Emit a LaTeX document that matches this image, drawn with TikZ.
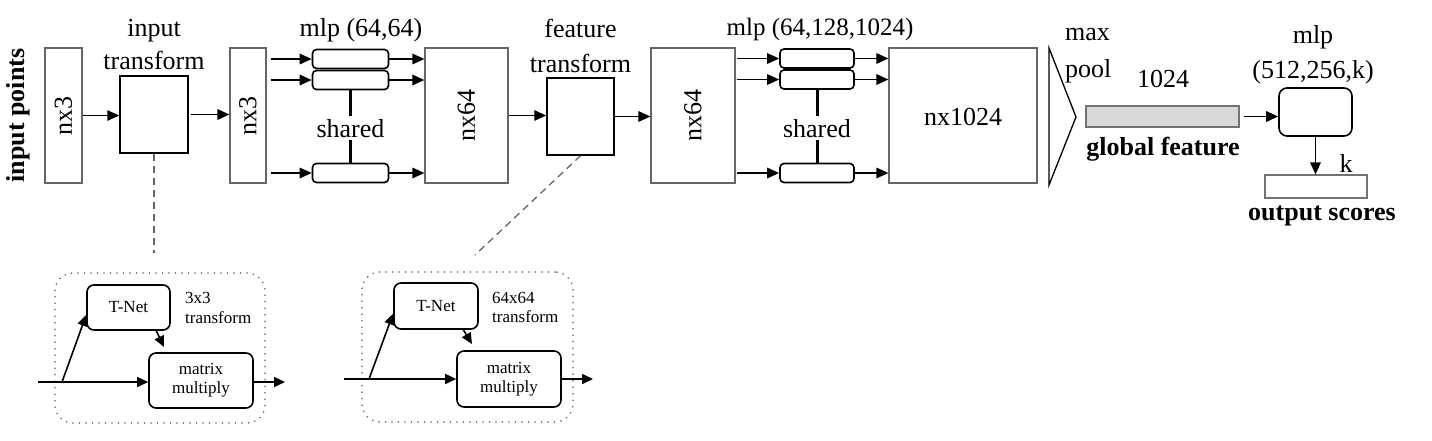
\documentclass[tikz,border=0pt]{standalone}
\usepackage{fontspec}
\setmainfont{Liberation Serif}
\usetikzlibrary{arrows.meta}
\begin{document}
\begin{tikzpicture}[x=1pt,y=-1pt,
  big/.style={font=\fontsize{26}{30}\selectfont, inner sep=0pt},
  bigb/.style={font=\fontsize{26}{30}\selectfont\bfseries, inner sep=0pt},
  small/.style={font=\fontsize{17}{19}\selectfont, inner sep=0pt},
  dimbox/.style={draw=black!60, line width=1.2pt, inner sep=0pt},
  tbox/.style={draw=black, line width=1.5pt, inner sep=0pt},
  mbox/.style={draw=black, line width=1.6pt, rounded corners=4pt, inner sep=0pt, minimum height=19pt},
  rbox/.style={draw=black, line width=1.6pt, rounded corners=7pt, inner sep=0pt, align=center, font=\fontsize{17}{19}\selectfont},
  arr/.style={-{Triangle[length=12pt,width=10.5pt]}, line width=1.5pt},
  sarr/.style={-{Triangle[length=11pt,width=10pt]}, line width=1.6pt},
  sharedln/.style={line width=3pt},
  dashln/.style={draw=black!60, line width=1.3pt, dash pattern=on 7pt off 5pt},
  dotbox/.style={draw=black!60, line width=1.8pt, dash pattern=on 0pt off 6.5pt, line cap=round, rounded corners=18pt, inner sep=0pt},
]
\useasboundingbox (0,0) rectangle (1432,440);

% input points
\node[bigb, rotate=90] (ip) at (18,115.5) {input points};

% first nx3
\node[dimbox, minimum width=37pt, minimum height=135pt] (a1) at (63.5,115.5) {};
\node[big, rotate=90] (a1t) at (a1) {nx3};

% input transform
\node[tbox, minimum width=68pt, minimum height=77pt] (it) at (154,114.5) {};
\node[big, anchor=base] (t1) at (154,36) {input};
\node[big, anchor=base] (t2) at (154,69) {transform};

% second nx3
\node[dimbox, minimum width=36pt, minimum height=135pt] (a2) at (248,115.5) {};
\node[big, rotate=90] (a2t) at (a2) {nx3};

% mlp (64,64)
\node[big, anchor=base] (t3) at (361,36) {mlp (64,64)};
\node[mbox, minimum width=76pt] (m1) at (350.5,59) {};
\node[mbox, minimum width=76pt] (m2) at (350.5,80) {};
\node[mbox, minimum width=76pt] (m3) at (350.5,173) {};
\node[big, text height=18pt, text depth=0pt, inner ysep=3pt] (sh1) at (350.5,128) {shared};

% nx64
\node[dimbox, minimum width=83pt, minimum height=135pt] (a3) at (466.5,115.5) {};
\node[big, rotate=90] (a3t) at (a3) {nx64};

% feature transform
\node[tbox, minimum width=67pt, minimum height=77pt] (ft) at (580.5,116.5) {};
\node[big, anchor=base] (t4) at (580.5,37) {feature};
\node[big, anchor=base] (t5) at (580.5,72) {transform};

% nx64 second
\node[dimbox, minimum width=84pt, minimum height=135pt] (a4) at (693,115.5) {};
\node[big, rotate=90] (a4t) at (a4) {nx64};

% mlp (64,128,1024)
\node[big, anchor=base, font=\fontsize{25}{30}\selectfont] (t6) at (820,35) {mlp (64,128,1024)};
\node[mbox, minimum width=74pt] (m4) at (817,58.5) {};
\node[mbox, minimum width=74pt] (m5) at (817,79.5) {};
\node[mbox, minimum width=74pt] (m6) at (817,173) {};
\node[big, text height=18pt, text depth=0pt, inner ysep=3pt] (sh2) at (817,128) {shared};

% nx1024
\node[dimbox, minimum width=148pt, minimum height=135pt] (a5) at (963,115.5) {};
\node[big] (a5t) at (963,117) {nx1024};

% max pool
\draw[line width=1.3pt, line join=miter] (1049,48) -- (1076,117) -- (1049,185) -- cycle;
\node[big, anchor=base west] (t7) at (1065,40) {max};
\node[big, anchor=base west] (t8) at (1065,77) {pool};

% global feature
\node[big, anchor=base] (t9) at (1163,87) {1024};
\node[draw=black!55, fill=black!15, line width=1.2pt, inner sep=0pt, minimum width=153pt, minimum height=21pt] (gf) at (1162.5,116.5) {};
\node[bigb, anchor=base] (t10) at (1163,155) {global feature};

% final mlp
\node[big, anchor=base] (t11) at (1313,43) {mlp};
\node[big, anchor=base] (t12) at (1313,78) {(512,256,k)};
\node[draw=black, line width=1.6pt, rounded corners=8pt, inner sep=0pt, minimum width=73pt, minimum height=48pt] (mlpb) at (1315.5,112) {};
\node[big, anchor=base] (t13) at (1346,172) {k};
\node[draw=black!55, line width=1.2pt, inner sep=0pt, minimum width=102pt, minimum height=23pt] (outb) at (1316,186.5) {};
\node[bigb, anchor=base] (t14) at (1322,220) {output scores};

% arrows top row
\draw[arr] (a1.east) -- (it.west |- a1.east);
\draw[arr, shorten <=2pt] (it.east) -- (a2.west |- it.east);
\foreach \m in {m1,m2,m3} {
  \draw[arr, shorten <=4pt] (a2.east |- \m.west) -- (\m.west);
  \draw[arr] (\m.east) -- (a3.west |- \m.east);
}
\draw[sharedln] (m2.south) -- (sh1.north);
\draw[sharedln] (sh1.south) -- (m3.north);
\draw[arr] (a3.east) -- (ft.west |- a3.east);
\draw[arr] (ft.east) -- (a4.west |- ft.east);
\foreach \m in {m4,m5,m6} {
  \draw[arr, shorten <=1pt] (a4.east |- \m.west) -- (\m.west);
  \draw[arr] (\m.east) -- (a5.west |- \m.east);
}
\draw[sharedln] (m5.south) -- (sh2.north);
\draw[sharedln] (sh2.south) -- (m6.north);
\draw[arr, shorten <=4pt] (gf.east) -- (mlpb.west |- gf.east);
\draw[arr] (mlpb.south) -- (outb.north -| mlpb.south);

% dashed links
\coordinate (c1) at (154,253);
\coordinate (c2) at (475,255);
\draw[dashln] (it.south) -- (c1);
\draw[dashln] (ft.south) -- (c2);

% bottom panel 1
\node[dotbox, minimum width=210pt, minimum height=150pt] (d1) at (160,348) {};
\node[rbox, minimum width=83pt, minimum height=45pt] (tn1) at (128.5,307.5) {T-Net};
\node[rbox, minimum width=104pt, minimum height=55pt] (mm1) at (201,380.5) {matrix\\multiply};
\node[small, anchor=base west] (l1a) at (185,303) {3x3};
\node[small, anchor=base west] (l1b) at (185,323) {transform};
\coordinate (in1) at (38,382);
\coordinate (b1) at (62,382);
\coordinate (o1) at (285,382);
\coordinate (e1) at (164,347);
\draw[sarr] (in1) -- (mm1.west |- in1);
\draw[sarr] (mm1.east |- o1) -- (o1);
\draw[sarr] (b1) -- (tn1.190);
\draw[sarr] (tn1.-40) -- (e1);

% bottom panel 2
\node[dotbox, minimum width=211pt, minimum height=150pt] (d2) at (467.5,347) {};
\node[rbox, minimum width=84pt, minimum height=46pt] (tn2) at (436,306) {T-Net};
\node[rbox, minimum width=104pt, minimum height=56pt] (mm2) at (509,379) {matrix\\multiply};
\node[small, anchor=base west] (l2a) at (492,303) {64x64};
\node[small, anchor=base west] (l2b) at (492,322) {transform};
\coordinate (in2) at (344,379);
\coordinate (b2) at (369,379);
\coordinate (o2) at (593,379);
\coordinate (e2) at (472,344);
\draw[sarr] (in2) -- (mm2.west |- in2);
\draw[sarr] (mm2.east |- o2) -- (o2);
\draw[sarr] (b2) -- (tn2.190);
\draw[sarr] (tn2.-41) -- (e2);
\end{tikzpicture}
\end{document}
